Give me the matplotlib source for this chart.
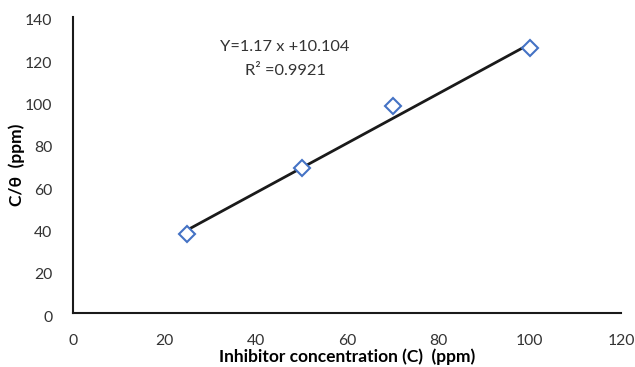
import matplotlib.pyplot as plt
import matplotlib.transforms as mtransforms
import numpy as np

# inhibitor concentration (ppm) and C/theta values
conc = [25, 50, 70, 100]
c_theta = [37.5, 68.7, 98.0, 125.1]

# fitted line from the regression
slope = 1.17
intercept = 10.104
r2 = 0.9921

xticks = [0, 20, 40, 60, 80, 100, 120]
yticks = [0, 20, 40, 60, 80, 100, 120, 140]

plt.rcParams['font.family'] = ['Lato', 'DejaVu Sans']

fig = plt.figure(figsize=(6.35, 3.67), dpi=100)
ax = fig.add_axes([0.1154, 0.1463, 0.8626, 0.8082])

fit_x = np.array([min(conc), max(conc)])
ax.plot(fit_x, slope * fit_x + intercept, color='#1a1a1a', lw=2, zorder=2)
ax.plot(conc, c_theta, linestyle='none', marker='D', markersize=8,
        markerfacecolor='white', markeredgecolor='#4472C4', markeredgewidth=1.5, zorder=3)

ax.text(46.4, 125.5, 'Y=1.17 x +10.104', ha='center', va='center', fontsize=11.8, color='#333333')
ax.text(46.4, 114.5, 'R² =0.9921', ha='center', va='center', fontsize=11.8, color='#333333')

ax.set_xlim(0, 120)
ax.set_ylim(0, 140)
ax.set_xticks(xticks)
ax.set_yticks(yticks)
ax.tick_params(length=0, labelsize=11.3, colors='#333333')
ax.tick_params(axis='x', pad=15)
ax.tick_params(axis='y', pad=15)

# y tick labels sit slightly below their gridline positions
shift = mtransforms.ScaledTranslation(0, -0.03, fig.dpi_scale_trans)
for lab in ax.get_yticklabels():
    lab.set_transform(lab.get_transform() + shift)

for side in ['top', 'right']:
    ax.spines[side].set_visible(False)
for side in ['left', 'bottom']:
    ax.spines[side].set_color('#1a1a1a')
    ax.spines[side].set_linewidth(1.5)

ax.set_xlabel('Inhibitor concentration (C)  (ppm)', fontsize=12.5, fontweight='bold')
ax.set_ylabel('C/θ  (ppm)', fontsize=12.5, fontweight='bold')
ax.xaxis.set_label_coords(0.5, -0.118)
ax.yaxis.set_label_coords(-0.088, 0.5)

fig.savefig('out.png', dpi=100)
